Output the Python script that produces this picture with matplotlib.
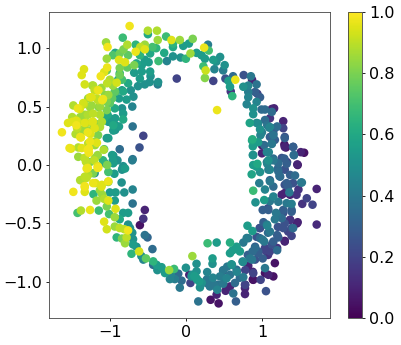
import numpy as np
import matplotlib
matplotlib.use("Agg")
import matplotlib.pyplot as plt

# points, one group per quadrant
x_top_left = [-.74, -.50, -.38, -.50, -.83, -.26, -.37, -.19, -.08, .09,
              -1.05, -1.03, -.77, -.66, -.54, -.60, -.66, -.54, -.44, -.39,
              -.285, -.17, -.17, .04, -.035, -.17, -.25, -.07, .0, .06,
              -.36, -.93, -.82, -.87, -.76, -1.04, -.88, -.80, -.96, -.68,
              -.605, -.47, -.54, -.49, -.58, -.65, -1.34, -1.37, -1.035, -1.075,
              -1.12, -.87, -.77, -.87, -.68, -.58, -.47, -.465, -.605, -.475,
              -.365, -.37, -.12, -.54, -.63, -1.33, -1.23, -1.2, -1.15, -1.035,
              -.91, -1.11, -.935, -.84, -.76, -.825, -.725, -.69, -.78, -.88,
              -1.24, -1.285, -1.155, -1.1, -1.02, -1.0, -.935, -.84, -.705, -.825,
              -.825, -1.48, -1.395, -1.34, -1.24, -1.13, -1.04, -1.0, -.955, -.88,
              -.70, -.56, -.61, -.87, -.70, -1.63, -1.55, -1.495, -1.44, -1.44,
              -1.33, -1.23, -1.305, -1.145, -1.075, -1.02, -1.35, -1.45, -1.255, -1.38,
              -1.155, -1.02, -.955, -1.195, -1.285, -1.51, -1.415, -1.275, -1.275, -1.195,
              -1.075, -.955, -.90, -.825, -1.33, -1.195, -1.09, -1.305, -1.16, -1.415]
y_top_left = [1.19, 1.15, 1.15, 1.12, 1.09, 1.10, 1.07, 1.07, 1.07, 1.08,
              1.05, 1.01, 1.03, 1.03, 1.03, 1.01, .97, .99, 1.01, 1.0,
              .96, 1.04, 1.01, 1.04, 1.02, .93, .89, .92, .91, .955,
              .89, .96, .99, .955, .94, .91, .90, .88, .94, .855,
              .94, .955, .90, .88, .855, .87, .82, .77, .835, .795,
              .76, .83, .835, .77, .79, .80, .80, .76, .74, .71,
              .71, .69, .74, .69, .675, .69, .68, .64, .64, .70,
              .705, .66, .63, .73, .70, .63, .64, .585, .56, .57,
              .58, .57, .555, .555, .60, .53, .485, .485, .50, .44,
              .39, .51, .48, .52, .51, .50, .47, .40, .34, .33,
              .33, .25, .15, .135, .05, .28, .36, .41, .38, .34,
              .43, .37, .36, .35, .40, .39, .29, .265, .265, .235,
              .255, .23, .295, .20, .185, .14, .15, .14, .105, .17,
              .135, .08, .04, -.01, .06, .06, .04, .02, -.01, .07]
c_top_left = [.98, .88, .88, .6, .68, .68, .85, .95, .85, .8,
              .85, .98, .88, .65, .85, .9, .97, .95, .7, .65,
              .6, .65, .6, .55, .55, .5, .45, .5, .65, .85,
              .68, .6, .8, .78, .75, .85, .95, .95, .72, .8,
              .65, .6, .55, .55, .55, .6, .95, .95, .97, .95,
              .98, .8, .75, .78, .55, .55, .55, .5, .55, .5,
              .5, .42, .2, .5, .5, .93, .85, .9, .97, .9,
              .93, .85, .75, .7, .6, .6, .5, .5, .55, .55,
              .95, .85, .9, .97, .85, .75, .6, .5, .45, .55,
              .6, .88, .95, .9, .85, .85, .8, .55, .6, .55,
              .38, .2, .25, .35, .38, .98, .95, .88, .95, .98,
              .85, .95, .9, .8, .6, .5, .85, .88, .95, .97,
              .8, .55, .55, .85, .9, .95, .88, .98, .98, .85,
              .7, .5, .5, .5, .9, .85, .65, .88, .95, .85]

x_bottom_left = [-1.315, -1.205, -1.305, -1.15, -1.035, -.955, -.80, -.84, -.705, -1.02,
                 -.94, -1.2, -1.285, -1.365, -1.305, -1.19, -1.11, -1.02, -.845, -1.33,
                 -1.33, -1.48, -1.215, -1.0, -.925, -.81, -.70, -1.1, -1.075, -1.175,
                 -1.02, -1.04, -.935, -.70, -.925, -1.38, -1.425, -1.26, -1.145, -.825,
                 -.76, -.54, -1.01, -.935, -.87, -.56, -1.075, -.605, -.76, -1.04,
                 -.935, -.87, -.81, -.76, -.735, -.705, -.91, -.84, -.78, -.80,
                 -.695, -.54, -.505, -.695, -.65, -.615, -.44, -.715, -.585, -.56,
                 -.525, -.43, -.385, -.43, -.32, -.375, -.22, -.155, 0, .085,
                 -.275, -.20, -.10, -.145, -.21, -.057, .045, .06, -.08, .11]
y_bottom_left = [.03, .04, -.03, -.02, 0, .015, -.03, -.04, .04, -.06,
                 -.075, -.07, -.085, -.13, -.11, -.155, -.185, -.14, -.15, -.18,
                 -.23, -.23, -.25, -.235, -.235, -.235, -.21, -.255, -.29, -.305,
                 -.305, -.355, -.305, -.33, -.375, -.39, -.41, -.385, -.39, -.41,
                 -.41, -.385, -.42, -.447, -.465, -.46, -.485, -.515, -.51, -.55,
                 -.527, -.54, -.55, -.56, -.54, -.58, -.62, -.63, -.62, -.67,
                 -.635, -.60, -.62, -.68, -.70, -.74, -.72, -.76, -.78, -.81,
                 -.80, -.825, -.855, -.855, -.875, -.90, -.90, -.89, -.88, -.78,
                 -.925, -.94, -.93, -.977, -.977, -.99, -.94, -1.01, -1.05, -.95]
c_bottom_left = [.9, .9, .97, .98, .8, .55, .55, .5, .42, .7,
                 .55, .5, .88, .85, .9, .95, .95, .97, .5, .98,
                 .95, .98, .65, .55, .55, .5, .45, .85, .88, .85,
                 .95, .8, .55, .38, .95, .88, .7, .97, .68, .55,
                 .55, .1, .7, .85, .6, .15, .95, .05, .5, .93,
                 .85, .9, .9, .98, .5, .5, .65, .8, .9, .85,
                 .5, .38, .33, .55, .5, .93, .35, .65, .5, .45,
                 .75, .65, .55, .35, .55, .5, .85, .68, .5, .85,
                 .55, .45, .35, .42, .45, .35, .1, .2, .4, .55]

x_top_right = [.29, .24, .30, .14, .205, .25, .45, .36, .40, .51,
               .49, .375, .23, .26, .25, .36, .52, .62, .65, .56,
               .76, .855, .87, .58, .59, .61, .755, .82, .93, .94,
               .82, .82, .91, .975, .93, .80, .41, .885, .885, .995,
               1.04, 1.13, 1.16, 1.13, 1.28, .84, 1.04, 1.105, .95, 1.095,
               1.20, 1.28, .975, .98, 1.15, 1.105, 1.30, .875, .95, 1.17,
               .88, 1.03, 1.13, 1.295, 1.315, 1.41, 1.0, 1.09, 1.51, 1.555,
               1.42, .885, 1.15, 1.295, 1.085, .94, .885, 1.07, 1.215, 1.325,
               1.465]
y_top_right = [1.03, 1.005, .98, .96, .94, .91, .925, .90, .885, .855,
               .81, .82, .845, .81, .745, .72, .74, .76, .73, .72,
               .77, .76, .73, .67, .63, .59, .67, .68, .69, .61,
               .625, .58, .625, .58, .54, .52, .47, .485, .435, .475,
               .475, .48, .485, .455, .375, .36, .385, .40, .355, .32,
               .33, .315, .305, .255, .27, .24, .23, .22, .195, .215,
               .16, .17, .18, .175, .15, .155, .10, .11, .11, .105,
               .085, .085, .055, .055, .04, .01, 0, .01, .015, .01,
               .005]
c_top_right = [.42, .97, .7, .55, .55, .55, .5, .55, .5, .5,
               .42, .45, .68, .92, .82, .2, .25, .35, .97, .55,
               .25, .4, .1, .55, .15, .65, .5, .45, .38, .2,
               .42, .45, .3, .3, .45, .45, .97, .5, .5, .35,
               .35, .1, .1, .35, .1, .58, .35, .15, .45, .42,
               .35, .2, .5, .45, .3, .3, .3, .62, .55, .3,
               .55, .35, .4, .05, .05, .25, .1, .45, .1, .05,
               .35, .5, .35, .3, .5, .6, .55, .45, .35, .3,
               .1]

x_bottom_right = [.975, .865, 1.085, 1.215, 1.23, 1.30, 1.435, .965, 1.105, 1.15,
                  1.04, .885, 1.515, 1.325, 1.345, 1.48, 1.72, 1.36, 1.26, 1.455,
                  1.15, 1.105, 1.03, .915, 1.215, 1.59, 1.325, 1.39, 1.53, 1.665,
                  1.01, 1.085, 1.39, 1.28, 1.185, 1.17, 1.26, 1.37, 1.47, 1.72,
                  1.02, 1.07, .975, .81, .875, 1.28, 1.41, 1.345, 1.39, 1.105,
                  1.03, .975, 1.15, 1.215, 1.30, 1.20, .82, .755, .285, .405,
                  .58, .91, .667, .615, .58, .71, .877, 1.04, 1.105, .95,
                  .84, 1.01, .91, .35, .35, .14, .746, .60, .544, 1.17,
                  1.04, .82, .49, .667, .886, 1.04, 1.084, 1.15, .14, .28,
                  .448, .535, .755, .645, .886, .983, .777, .075, .14, .176,
                  .338, .272, .38, .49, .185, .413, .58, .522, .404, .777,
                  .777, .623, 1.053, .163, .325, .43, .658]
y_bottom_right = [-.06, -.08, -.04, -.055, -.095, -.04, -.09, -.155, -.14, -.185,
                  -.21, -.22, -.15, -.155, -.185, -.21, -.205, -.235, -.255, -.255,
                  -.27, -.31, -.30, -.32, -.315, -.285, -.327, -.333, -.333, -.34,
                  -.385, -.385, -.40, -.385, -.41, -.465, -.455, -.47, -.49, -.51,
                  -.49, -.52, -.54, -.52, -.565, -.54, -.54, -.57, -.607, -.57,
                  -.655, -.627, -.655, -.62, -.655, -.73, -.627, -.664, -.67, -.664,
                  -.664, -.70, -.70, -.73, -.755, -.74, -.74, -.71, -.74, -.74,
                  -.80, -.80, -.81, -.80, -.846, -.846, -.826, -.85, -.87, -.84,
                  -.883, -.863, -.906, -.897, -.926, -.926, -.94, -.954, -.91, -.917,
                  -.954, -.97, -.96, -1.01, -.983, -.983, -1.025, -.954, -.97, -.997,
                  -.983, -1.01, -1.034, -1.017, -1.048, -1.068, -1.04, -1.077, -1.11, -1.054,
                  -1.105, -1.10, -1.08, -1.168, -1.154, -1.185, -1.168]
c_bottom_right = [.5, .58, .42, .35, .35, .25, .35, .42, .4, .35,
                  .45, .68, .4, .3, .3, .15, .1, .4, .1, .15,
                  .45, .4, .55, .5, .4, .2, .4, .42, .15, .2,
                  .3, .3, .3, .3, .4, .4, .35, .1, .1, .12,
                  .3, .45, .2, .55, .55, .25, .35, .2, .2, .4,
                  .4, .35, .3, .3, .1, .35, .38, .4, .68, .55,
                  .62, .3, .55, .55, .55, .55, .35, .2, .2, .3,
                  .4, .3, .25, .55, .5, .5, .4, .5, .4, .05,
                  .4, .1, .2, .35, .2, .05, .1, .05, .5, .45,
                  .42, .45, .4, .35, .05, .2, .2, .5, .55, .55,
                  .4, .35, .4, .4, .5, .45, .1, .1, .1, .1,
                  .1, .38, .25, .38, .05, .05, .3]

# extra points from the crowded parts of the left and right bands
x_dense_left = [-1.22, -1.16, -1.26, -1.17, -1.09, -1.35, -1.42, -1.26, -1.145, -1.04,
                -1.065, -.96, -1.0, -1.04, -.89, -.87, -.93, -.84, -.97, -1.22,
                -1.13, -1.29, -1.39, -1.03, -.93, -1.49, -1.42, -1.33, -1.22, -1.105,
                -1.02, -.93, -1.13, -1.22, -1.43, -1.33, -1.53, -1.43, -1.39, -1.29,
                -1.2, -1.26, -1.17, -1.29, -1.37, -1.08, -1.16, -1.33, -1.26, -1.16,
                -1.29, -1.39, -1.33, -1.22, -1.065, -.96, -1.04, -.93, -.97, -1.33,
                -1.22, -1.105, -1.02, -1.13, -.83]
y_dense_left = [.68, .64, .58, .57, .565, .53, .485, .495, .495, .54,
                .60, .68, .73, .81, .73, .785, .625, .64, .57, .44,
                .43, .43, .41, .43, .40, .37, .37, .36, .37, .37,
                .37, .34, .325, .315, .315, .315, .145, .33, .24, .28,
                .315, .20, .19, .13, .145, .13, .085, .06, .025, -.025,
                -.025, -.13, -.10, -.07, .015, .04, .23, .30, .085, -.19,
                -.155, -.17, -.145, -.215, -.025]
c_dense_left = [.88, .95, .95, .9, .97, .93, .97, .85, .82, .8,
                .82, .85, .88, .75, .6, .65, .7, .55, .75, .9,
                .88, .88, .85, .6, .55, .95, .9, .95, .93, .88,
                .55, .5, .88, .85, .9, .85, .97, .9, .97, .97,
                .95, .97, .95, .98, .95, .88, .85, .88, .8, .98,
                .97, .88, .9, .8, .55, .55, .55, .5, .55, .97,
                .97, .95, .8, .85, .48]

x_dense_right = [.87, .88, .93, .93, 1.0, 1.07, 1.105, 1.15, 1.17, 1.13,
                 1.0, 1.30, 1.30, 1.41, 1.42, 1.065, 1.065, 1.15, 1.26, 1.33,
                 1.47, 1.105, 1.21, 1.24, 1.37, 1.525, 1.41, 1.30, 1.105, 1.30,
                 1.37, 1.08, 1.20, 1.28, 1.39, 1.46, 1.37, 1.30, 1.21, 1.065,
                 .97, 1.08, 1.20, 1.30, 1.39, 1.01, .93, 1.13, 1.20, 1.04,
                 .91, .95, .815, 1.08, .80, .145, .21, .275, .355, .47,
                 .58, .42, .315, .67, .49, .605, .75, .87, .78, .88,
                 .88, .71, .78, .08]
y_dense_right = [.21, .085, .36, -.015, .28, .34, .325, .255, .315, .185,
                 .17, .155, .24, .155, .085, .11, .025, .04, .06, .025,
                 0, -.04, -.03, -.10, -.085, -.15, -.155, -.17, -.13, -.24,
                 -.255, -.37, -.43, -.41, -.385, -.50, -.47, -.50, -.53, -.51,
                 -.54, -.58, -.60, -.65, -.54, -.64, -.615, -.68, -.71, -.73,
                 -.71, -.755, -.77, -.77, -.625, -.98, -1.01, -.98, -.965, -.955,
                 -.94, -1.025, -1.04, -.915, -.90, -.855, -.83, -.81, -.90, -.915,
                 -.98, -.965, -1.025, -.94]
c_dense_right = [.58, .5, .48, .55, .42, .38, .45, .38, .3, .35,
                 .05, .1, .25, .3, .35, .45, .42, .4, .25, .2,
                 .05, .45, .32, .33, .3, .4, .25, .25, .3, .1,
                 .1, .25, .38, .25, .3, .05, .15, .25, .25, .4,
                 .25, .35, .3, .05, .25, .4, .25, .25, .15, .2,
                 .35, .3, .3, .15, .42, .55, .5, .4, .45, .4,
                 .38, .38, .4, .45, .4, .5, .48, .4, .2, .1,
                 .05, .35, .2, .5]

x = np.array(x_dense_left + x_dense_right + x_top_left + x_bottom_left + x_top_right + x_bottom_right)
y = np.array(y_dense_left + y_dense_right + y_top_left + y_bottom_left + y_top_right + y_bottom_right)
c = np.array(c_dense_left + c_dense_right + c_top_left + c_bottom_left + c_top_right + c_bottom_right)

cbar_ticks = [0.0, 0.2, 0.4, 0.6, 0.8, 1.0]

# brighter points sit on top in the left band
order = np.argsort(c)

fig = plt.figure(figsize=(4.02, 3.45), dpi=100)
ax = fig.add_axes([49 / 402, 27 / 345, 281 / 402, 306 / 345])
sc = ax.scatter(x[order], y[order], c=c[order], s=38, cmap='viridis', vmin=0, vmax=1, linewidths=0)
ax.set_xlim(-1.80, 1.895)
ax.set_ylim(-1.31, 1.31)
ax.set_xticks([-1, 0, 1])
ax.set_yticks([-1.0, -0.5, 0.0, 0.5, 1.0])
ax.tick_params(labelsize=11.5, length=2.5, width=0.6, pad=2.5)
for spine in ax.spines.values():
    spine.set_linewidth(0.6)
    spine.set_color('#444444')

cax = fig.add_axes([348 / 402, 27 / 345, 14 / 402, 306 / 345])
cbar = fig.colorbar(sc, cax=cax, ticks=cbar_ticks)
cbar.ax.tick_params(labelsize=11.5, length=2.5, width=0.6, pad=2.5)
cbar.outline.set_linewidth(0.6)
cbar.outline.set_edgecolor('#444444')

fig.savefig('out.png', dpi=100)
